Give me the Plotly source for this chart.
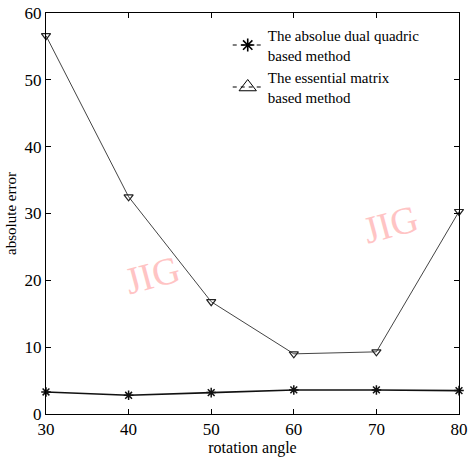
import plotly.graph_objects as go

angles = [30, 40, 50, 60, 70, 80]
dual_quadric = [3.3, 2.8, 3.2, 3.6, 3.6, 3.5]
essential = [56.6, 32.5, 16.8, 9.0, 9.3, 30.3]
x_ticks = [30, 40, 50, 60, 70, 80]
y_ticks = [0, 10, 20, 30, 40, 50, 60]
legend_names = ["The absolue dual quadric<br>based method", "The essential matrix<br>based method"]

FONT = "Liberation Serif, Times New Roman, serif"

fig = go.Figure()
fig.add_trace(go.Scatter(x=angles, y=essential, mode="lines+markers",
                         line=dict(color="#444", width=1),
                         marker=dict(symbol="triangle-down-open", size=8, color="#222", line=dict(width=1.2)),
                         showlegend=False, cliponaxis=False))
fig.add_trace(go.Scatter(x=angles, y=dual_quadric, mode="lines+markers",
                         line=dict(color="#111", width=1.6),
                         marker=dict(symbol="asterisk-open", size=8, color="#111", line=dict(width=1.5)),
                         showlegend=False, cliponaxis=False))
# legend entries
fig.add_trace(go.Scatter(x=[None], y=[None], mode="lines+markers", name=legend_names[0],
                         line=dict(color="black", width=1.2, dash="4px,4px"),
                         marker=dict(symbol="asterisk-open", size=11, color="black", line=dict(width=1.6))))
fig.add_trace(go.Scatter(x=[None], y=[None], mode="lines+markers", name=legend_names[1],
                         line=dict(color="black", width=1.2, dash="4px,4px"),
                         marker=dict(symbol="triangle-up-open", size=15, color="black", line=dict(width=1))))

axis_common = dict(showline=True, linecolor="black", linewidth=1, mirror="ticks",
                   ticks="inside", ticklen=5, tickcolor="black", showgrid=False, zeroline=False,
                   ticklabeloverflow="allow",
                   tickfont=dict(family=FONT, size=17, color="black"))
fig.update_xaxes(range=[30, 80], tickvals=x_ticks, automargin=False, **axis_common,
                 title=dict(text="rotation angle", font=dict(family=FONT, size=16, color="black"), standoff=2))
fig.update_yaxes(range=[0, 60], tickvals=y_ticks, automargin=False, **axis_common,
                 title=dict(text="absolute error", font=dict(family=FONT, size=15, color="black"), standoff=4))

for (ax, ay) in [(0.257, 0.347), (0.835, 0.475)]:
    fig.add_annotation(x=ax, y=ay, xref="paper", yref="paper", xanchor="center", yanchor="middle",
                       text="JIG", showarrow=False, textangle=-15,
                       font=dict(family=FONT, size=38, color="#ffc4c4"))

fig.update_layout(width=468, height=460, margin=dict(l=46, r=9, t=13, b=46),
                  plot_bgcolor="white", paper_bgcolor="white",
                  font=dict(family=FONT, color="black"),
                  legend=dict(x=0.44, y=0.985, xanchor="left", yanchor="top", bgcolor="rgba(0,0,0,0)",
                              font=dict(family=FONT, size=15, color="black"), tracegroupgap=0,
                              itemwidth=30))

fig.write_html("out.html")
